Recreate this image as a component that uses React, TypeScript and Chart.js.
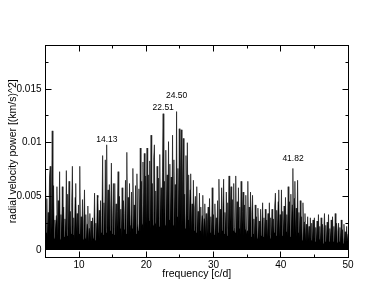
import React, { useEffect, useRef } from "react";
import { Chart, registerables } from "chart.js";

Chart.register(...registerables);

// Power values in units of 1e-3 (km/s)^2, one every 0.1 c/d
const freqStart = 5;
const freqStep = 0.1;

const power05to10 = [
  7.3, 1.6, 4.8, 1.2, 3.5, 1.9, 6.8, 7.8, 1.4, 3.9,
  11.1, 2.0, 6.0, 1.1, 2.8, 1.7, 3.2, 5.9, 1.3, 4.6,
  1.8, 7.3, 1.0, 3.3, 1.5, 5.9, 2.1, 4.0, 1.2, 2.9,
  1.6, 7.4, 1.3, 5.2, 1.9, 6.4, 0.9, 3.6, 1.5, 4.4,
  7.8, 1.4, 3.0, 1.1, 4.9, 6.2, 1.7, 3.4, 1.2, 4.2,
];
const power10to15 = [
  1.5, 7.8, 1.2, 3.1, 1.3, 4.7, 1.0, 2.6, 5.6, 1.1,
  3.3, 0.9, 2.4, 4.1, 0.8, 2.0, 3.4, 1.0, 2.7, 0.8,
  3.0, 1.1, 2.2, 5.3, 0.9, 2.5, 1.2, 5.1, 4.9, 1.3,
  3.7, 1.1, 4.6, 1.6, 3.2, 8.8, 1.4, 4.4, 1.9, 8.4,
  1.6, 9.8, 2.0, 5.6, 1.4, 6.1, 1.8, 3.9, 8.1, 1.5,
];
const power15to20 = [
  2.9, 6.2, 1.4, 6.2, 1.8, 4.3, 1.3, 3.6, 7.3, 1.6,
  5.0, 2.0, 3.8, 1.2, 5.8, 1.6, 4.6, 1.9, 3.4, 6.5,
  1.5, 9.1, 2.2, 4.9, 1.4, 6.2, 2.3, 1.7, 5.4, 2.0,
  7.6, 1.6, 4.2, 2.1, 6.0, 1.5, 7.1, 2.5, 1.8, 5.7,
  2.2, 9.5, 1.7, 6.4, 2.4, 8.2, 1.9, 9.0, 2.3, 6.9,
];
const power20to25 = [
  2.4, 9.5, 2.1, 7.0, 2.7, 8.3, 1.9, 10.7, 3.0, 6.2,
  2.3, 8.6, 9.8, 2.5, 5.5, 2.0, 7.8, 2.6, 6.7, 2.2,
  8.9, 2.9, 5.8, 2.0, 7.2, 12.7, 2.6, 6.4, 2.3, 9.3,
  3.1, 7.0, 2.1, 10.1, 2.8, 8.0, 2.4, 6.8, 3.0, 10.7,
  2.3, 8.4, 2.9, 6.1, 2.0, 12.9, 3.1, 7.6, 2.5, 11.3,
];
const power25to30 = [
  2.7, 7.9, 11.2, 2.3, 6.6, 10.4, 2.6, 5.2, 2.0, 8.8,
  2.4, 10.0, 2.8, 7.0, 2.0, 5.6, 7.1, 1.8, 4.3, 2.2,
  6.5, 1.8, 3.9, 5.0, 1.6, 5.9, 2.0, 3.6, 1.4, 5.3,
  1.8, 4.0, 1.5, 3.2, 5.1, 1.3, 2.9, 4.3, 1.5, 3.4,
  1.2, 2.6, 4.0, 1.4, 4.8, 1.6, 3.1, 1.3, 5.8, 1.6,
];
const power30to35 = [
  3.3, 1.4, 4.3, 1.7, 3.0, 1.2, 4.6, 1.6, 6.6, 1.9,
  3.8, 1.4, 5.8, 1.8, 4.1, 6.6, 1.5, 3.5, 1.9, 5.4,
  1.3, 4.4, 2.0, 6.9, 1.5, 3.9, 5.9, 1.4, 4.7, 1.8,
  6.2, 2.1, 1.6, 6.9, 1.9, 4.5, 1.2, 5.8, 2.0, 4.0,
  1.4, 6.4, 1.8, 3.6, 5.4, 1.3, 4.2, 1.9, 5.1, 1.5,
];
const power35to40 = [
  1.8, 6.4, 1.4, 4.0, 1.7, 5.4, 1.2, 3.5, 5.1, 1.5,
  2.9, 1.0, 4.2, 1.5, 3.1, 1.1, 3.9, 1.4, 2.7, 1.0,
  3.8, 1.3, 2.5, 4.4, 1.2, 3.0, 1.1, 3.8, 1.4, 2.8,
  1.2, 3.4, 1.5, 4.4, 1.1, 3.0, 1.4, 3.8, 1.3, 2.9,
  1.6, 4.1, 5.3, 1.3, 3.7, 1.5, 4.5, 5.6, 1.2, 3.3,
];
const power40to45 = [
  1.5, 5.6, 1.3, 3.6, 1.6, 4.1, 1.2, 4.9, 1.7, 3.3,
  1.3, 5.9, 1.5, 4.5, 1.2, 5.2, 1.8, 4.2, 7.6, 1.4,
  4.8, 6.4, 1.6, 3.9, 1.2, 6.5, 1.6, 3.5, 1.2, 4.6,
  1.3, 3.1, 0.9, 4.4, 1.1, 2.6, 3.4, 0.9, 2.4, 0.8,
  3.1, 1.0, 2.2, 0.7, 3.0, 0.9, 2.5, 0.8, 2.8, 0.9,
];
const power45to50 = [
  3.0, 0.8, 2.1, 0.9, 2.7, 0.7, 3.3, 1.0, 2.2, 0.7,
  3.0, 0.9, 2.4, 0.6, 1.9, 3.4, 0.8, 2.3, 0.7, 2.6,
  0.9, 3.3, 0.8, 2.0, 1.0, 2.8, 0.7, 3.1, 0.8, 2.2,
  0.7, 3.4, 0.9, 2.5, 0.7, 1.8, 2.5, 0.8, 2.1, 0.6,
  2.8, 0.9, 1.9, 0.6, 2.4, 0.8, 1.7, 0.7, 2.2, 0.8,
  1.5,
];

const powerScale = 0.001;

// Labelled peaks
const peakLabels = ["14.13", "22.51", "24.50", "41.82"];
const peakFreqs = [14.13, 22.51, 24.5, 41.82];
const peakLabelLevels = [0.0103, 0.0133, 0.0144, 0.0085];

// Axes
const xMin = 5;
const xMax = 50;
const yMin = -0.0007;
const yMax = 0.0191;
const xMajorTicks = [10, 20, 30, 40, 50];
const xMinorTicks = [5, 15, 25, 35, 45];
const yMajorTicks = [0, 0.005, 0.01, 0.015];
const yMajorLabels = ["0", "0.005", "0.01", "0.015"];
const yMinorTicks = [0.0025, 0.0075, 0.0125, 0.0175];

const allPower = [
  ...power05to10, ...power10to15, ...power15to20, ...power20to25,
  ...power25to30, ...power30to35, ...power35to40, ...power40to45,
  ...power45to50,
];

const FONT = "'Liberation Sans', Arial, Helvetica, sans-serif";

const framePlugin = {
  id: "frame",
  afterDraw(chart: any) {
    const { ctx, chartArea, scales } = chart;
    const { left, right, top, bottom } = chartArea;
    const x = scales.x;
    const y = scales.y;
    ctx.save();
    ctx.strokeStyle = "#000";
    ctx.lineWidth = 1;
    const L = Math.floor(left) + 0.5;
    const R = Math.floor(right) + 0.5;
    const T = Math.floor(top) + 0.5;
    const B = Math.floor(bottom) + 0.5;
    ctx.strokeRect(L, T, R - L, B - T);
    ctx.beginPath();
    const xt = (v: number, len: number) => {
      const px = Math.floor(x.getPixelForValue(v)) + 0.5;
      ctx.moveTo(px, B);
      ctx.lineTo(px, B - len);
      ctx.moveTo(px, T);
      ctx.lineTo(px, T + len);
    };
    const yt = (v: number, len: number) => {
      const py = Math.floor(y.getPixelForValue(v)) + 0.5;
      ctx.moveTo(L, py);
      ctx.lineTo(L + len, py);
      ctx.moveTo(R, py);
      ctx.lineTo(R - len, py);
    };
    xMajorTicks.forEach((v) => xt(v, 6));
    xMinorTicks.forEach((v) => xt(v, 3));
    yMajorTicks.forEach((v) => yt(v, 6));
    yMinorTicks.forEach((v) => yt(v, 3));
    ctx.stroke();

    ctx.fillStyle = "#000";
    ctx.font = `8.5px ${FONT}`;
    ctx.textAlign = "center";
    ctx.textBaseline = "middle";
    peakLabels.forEach((t, i) => {
      ctx.fillText(t, x.getPixelForValue(peakFreqs[i]), y.getPixelForValue(peakLabelLevels[i]));
    });
    ctx.restore();
  },
};

export default function App() {
  const ref = useRef<HTMLCanvasElement | null>(null);
  useEffect(() => {
    if (!ref.current) return;
    const data = allPower.map((p, i) => ({ x: freqStart + i * freqStep, y: p * powerScale }));
    const chart = new Chart(ref.current, {
      type: "line",
      data: {
        datasets: [
          {
            data,
            borderColor: "#000",
            backgroundColor: "#000",
            borderWidth: 0.6,
            pointRadius: 0,
            fill: "origin",
            tension: 0,
          },
        ],
      },
      options: {
        animation: false,
        responsive: false,
        parsing: false,
        layout: { padding: { left: 0, top: 45, right: 44, bottom: 22.5 } },
        plugins: { legend: { display: false }, tooltip: { enabled: false } },
        scales: {
          x: {
            type: "linear",
            min: xMin,
            max: xMax,
            grid: { display: false, drawTicks: false },
            border: { display: false },
            afterFit: (s: any) => { s.height = 23; },
            afterBuildTicks: (s: any) => { s.ticks = xMajorTicks.map((v) => ({ value: v })); },
            ticks: {
              padding: 2,
              color: "#000",
              font: { family: FONT, size: 10 },
              maxRotation: 0,
              callback: (v: any) => String(v),
            },
            title: {
              display: true,
              text: "frequency [c/d]",
              color: "#000",
              font: { family: FONT, size: 10.5 },
              padding: { top: 0, bottom: 0 },
            },
          },
          y: {
            type: "linear",
            min: yMin,
            max: yMax,
            grid: { display: false, drawTicks: false },
            border: { display: false },
            afterFit: (s: any) => { s.width = 45.5; },
            afterBuildTicks: (s: any) => { s.ticks = yMajorTicks.map((v) => ({ value: v })); },
            ticks: {
              padding: 4,
              color: "#000",
              font: { family: FONT, size: 10 },
              callback: (v: any) => {
                const i = yMajorTicks.findIndex((t) => Math.abs(t - v) < 1e-9);
                return i >= 0 ? yMajorLabels[i] : "";
              },
            },
            title: {
              display: true,
              text: "radial velocity power [(km/s)^2]",
              color: "#000",
              font: { family: FONT, size: 10.5 },
              padding: { top: 6.5, bottom: 0 },
            },
          },
        },
      },
      plugins: [framePlugin],
    });
    return () => chart.destroy();
  }, []);
  return (
    <div style={{ position: "fixed", left: 0, top: 0, width: 392, height: 303, background: "#fff" }}>
      <canvas ref={ref} width={392} height={303} />
    </div>
  );
}
